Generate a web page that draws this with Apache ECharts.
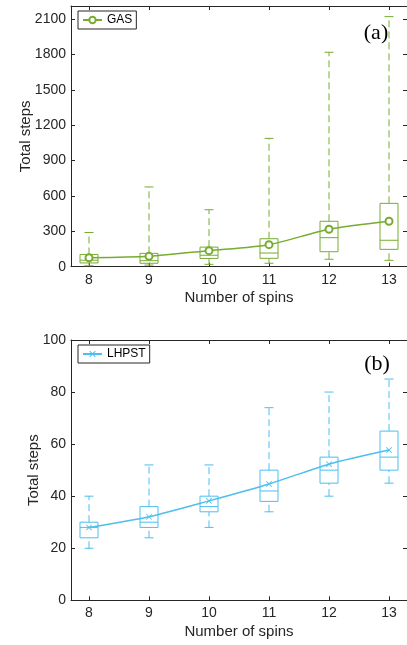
<!DOCTYPE html>
<html>
<head>
<meta charset="utf-8">
<script src="https://cdn.jsdelivr.net/npm/echarts@6/dist/echarts.min.js"></script>
<style>
  html, body { margin: 0; padding: 0; background: #fff; }
  #chart { width: 407px; height: 645px; }
</style>
</head>
<body>
<div id="chart"></div>
<script>
// number of spins
const spins = [8, 9, 10, 11, 12, 13]

// (a) GAS box statistics
const gasMin = [8, 14, 20, 29, 63, 54]
const gasQ1 = [32, 29, 70, 71, 127, 147]
const gasMedian = [55, 51, 97, 116, 246, 224]
const gasQ3 = [104, 113, 166, 237, 385, 537]
const gasMax = [290, 676, 483, 1088, 1818, 2120]
const gasMean = [76, 88, 136, 187, 317, 385]
const gasTicks = [0, 300, 600, 900, 1200, 1500, 1800, 2100]

// (b) LHPST box statistics
const lhMin = [20, 24, 28, 34, 40, 45]
const lhQ1 = [24, 28, 34, 38, 45, 50]
const lhMedian = [28, 30, 36, 42, 50, 55]
const lhQ3 = [30, 36, 40, 50, 55, 65]
const lhMax = [40, 52, 52, 74, 80, 85]
const lhMean = [28, 32.1, 38.2, 44.7, 52.3, 57.7]
const lhTicks = [0, 20, 40, 60, 80, 100]

const GREEN = '#77AC30'
const BLUE = '#4DBEEE'
const AXIS = '#262626'
const FONT = 'Liberation Sans, Arial, sans-serif'

const boxRows = (mn, q1, md, q3, mx) => spins.map((s, i) => [s, mn[i], q1[i], md[i], q3[i], mx[i]])

// box + dashed whiskers, drawn through the axis scales
const makeBox = (color) => (params, api) => {
  const x = api.value(0)
  const pMin = api.coord([x, api.value(1)])
  const pQ1 = api.coord([x, api.value(2)])
  const pMed = api.coord([x, api.value(3)])
  const pQ3 = api.coord([x, api.value(4)])
  const pMax = api.coord([x, api.value(5)])
  const bw = api.size([0.3, 0])[0]
  const cw = api.size([0.15, 0])[0]
  const cx = pQ1[0]
  const solid = { stroke: color, lineWidth: 1, fill: null }
  const dashed = { stroke: color, lineWidth: 1, lineDash: [7, 4], fill: null }
  return {
    type: 'group',
    children: [
      { type: 'line', shape: { x1: cx, y1: pQ3[1], x2: cx, y2: pMax[1] }, style: dashed },
      { type: 'line', shape: { x1: cx, y1: pMin[1], x2: cx, y2: pQ1[1] }, style: dashed },
      { type: 'line', shape: { x1: cx - cw / 2, y1: pMax[1], x2: cx + cw / 2, y2: pMax[1] }, style: solid },
      { type: 'line', shape: { x1: cx - cw / 2, y1: pMin[1], x2: cx + cw / 2, y2: pMin[1] }, style: solid },
      { type: 'rect', shape: { x: cx - bw / 2, y: pQ3[1], width: bw, height: pQ1[1] - pQ3[1] }, style: solid },
      { type: 'line', shape: { x1: cx - bw / 2, y1: pMed[1], x2: cx + bw / 2, y2: pMed[1] }, style: solid }
    ]
  }
}

const tickStyle = { inside: true, length: 4, lineStyle: { color: AXIS, width: 1 } }
const lineStyle = { show: true, onZero: false, lineStyle: { color: AXIS, width: 1 } }
const labelStyle = { color: AXIS, fontSize: 14, fontFamily: FONT, formatter: (v) => String(v) }

const xAxisFor = (gridIndex, position, withLabels) => ({
  type: 'value',
  gridIndex,
  position,
  min: 7.7,
  max: 13.3,
  axisLine: lineStyle,
  axisTick: Object.assign({ customValues: spins }, tickStyle),
  axisLabel: withLabels
    ? Object.assign({ customValues: spins, margin: 6 }, labelStyle)
    : { show: false },
  splitLine: { show: false },
  name: withLabels ? 'Number of spins' : '',
  nameLocation: 'middle',
  nameGap: 24,
  nameMoveOverlap: false,
  nameTextStyle: { color: AXIS, fontSize: 15, fontFamily: FONT }
})

const yAxisFor = (gridIndex, position, max, ticks, withLabels, nameGap) => ({
  type: 'value',
  gridIndex,
  position,
  min: 0,
  max,
  axisLine: lineStyle,
  axisTick: Object.assign({ customValues: ticks }, tickStyle),
  axisLabel: withLabels
    ? Object.assign({ customValues: ticks, margin: 5 }, labelStyle)
    : { show: false },
  splitLine: { show: false },
  name: withLabels ? 'Total steps' : '',
  nameLocation: 'middle',
  nameGap,
  nameMoveOverlap: false,
  nameTextStyle: { color: AXIS, fontSize: 15, fontFamily: FONT }
})

const chart = echarts.init(document.getElementById('chart'))

const option = {
  animation: false,
  backgroundColor: '#fff',
  grid: [
    { left: 71, top: 6, width: 336, height: 260.7 },
    { left: 71, top: 340, width: 336, height: 260.3 }
  ],
  xAxis: [
    xAxisFor(0, 'bottom', true),
    xAxisFor(0, 'top', false),
    xAxisFor(1, 'bottom', true),
    xAxisFor(1, 'top', false)
  ],
  yAxis: [
    yAxisFor(0, 'left', 2210, gasTicks, true, 38),
    yAxisFor(0, 'right', 2210, gasTicks, false, 0),
    yAxisFor(1, 'left', 100, lhTicks, true, 30),
    yAxisFor(1, 'right', 100, lhTicks, false, 0)
  ],
  legend: [
    {
      data: ['GAS'],
      left: 78, top: 11,
      padding: [3, 4],
      itemWidth: 19, itemHeight: 8, itemGap: 5,
      borderColor: AXIS, borderWidth: 1,
      textStyle: { color: '#000', fontSize: 12, fontFamily: FONT }
    },
    {
      data: ['LHPST'],
      left: 78, top: 345,
      padding: [3, 4],
      itemWidth: 19, itemHeight: 8, itemGap: 5,
      borderColor: AXIS, borderWidth: 1,
      textStyle: { color: '#000', fontSize: 12, fontFamily: FONT }
    }
  ],
  graphic: [
    { type: 'text', x: 376, y: 33, style: { text: '(a)', fill: '#000', font: '22px "Liberation Serif", serif', textAlign: 'center', textVerticalAlign: 'middle' } },
    { type: 'text', x: 377, y: 364, style: { text: '(b)', fill: '#000', font: '22px "Liberation Serif", serif', textAlign: 'center', textVerticalAlign: 'middle' } }
  ],
  series: [
    {
      name: 'GAS box',
      type: 'custom',
      xAxisIndex: 0, yAxisIndex: 0,
      renderItem: makeBox(GREEN),
      encode: { x: 0, y: [1, 2, 3, 4, 5] },
      data: boxRows(gasMin, gasQ1, gasMedian, gasQ3, gasMax),
      z: 2
    },
    {
      name: 'GAS',
      type: 'line',
      xAxisIndex: 0, yAxisIndex: 0,
      data: spins.map((s, i) => [s, gasMean[i]]),
      smooth: 0.25,
      symbol: 'emptyCircle',
      symbolSize: 7,
      color: GREEN,
      lineStyle: { color: GREEN, width: 1.5 },
      itemStyle: { color: GREEN, borderColor: GREEN, borderWidth: 1.5 },
      z: 3
    },
    {
      name: 'LHPST box',
      type: 'custom',
      xAxisIndex: 2, yAxisIndex: 2,
      renderItem: makeBox(BLUE),
      encode: { x: 0, y: [1, 2, 3, 4, 5] },
      data: boxRows(lhMin, lhQ1, lhMedian, lhQ3, lhMax),
      z: 2
    },
    {
      name: 'LHPST',
      type: 'line',
      xAxisIndex: 2, yAxisIndex: 2,
      data: spins.map((s, i) => [s, lhMean[i]]),
      smooth: 0.25,
      symbol: 'path://M0,1L1,0L5,4L9,0L10,1L6,5L10,9L9,10L5,6L1,10L0,9L4,5Z',
      symbolSize: 6,
      color: BLUE,
      lineStyle: { color: BLUE, width: 1.5 },
      itemStyle: { color: BLUE },
      z: 3
    }
  ]
}

chart.setOption(option)
</script>
</body>
</html>
